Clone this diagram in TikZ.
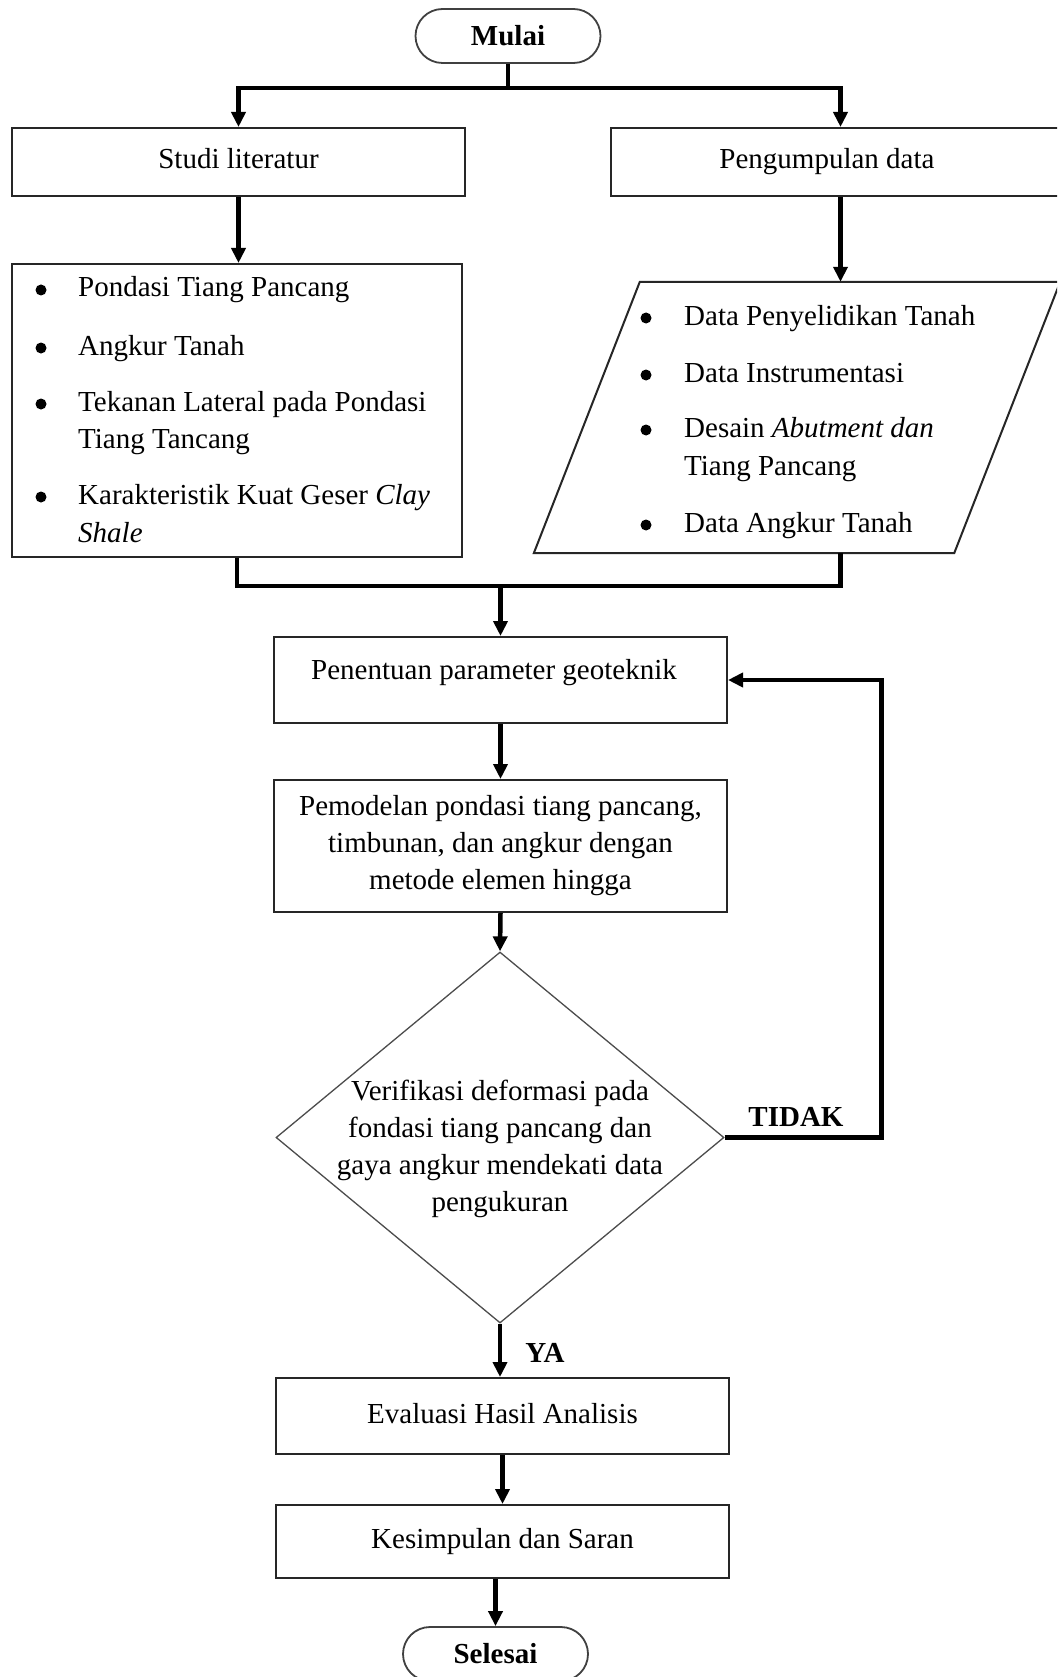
\documentclass[tikz,border=0pt]{standalone}
\usepackage{fontspec}
\setmainfont{Liberation Serif}
\usetikzlibrary{arrows.meta,shapes.geometric,shapes.misc}
\begin{document}
\begin{tikzpicture}[x=1pt,y=-1pt,
  conn/.style={line width=4.5pt},
  arr/.style={line width=4.5pt,-{Triangle[length=15pt,width=14pt]}},
  boxs/.style={draw=black!85,line width=2pt,rectangle,inner sep=0pt},
  term/.style={draw=black!75,line width=1.8pt,rounded rectangle,minimum width=185pt,minimum height=54pt,inner sep=0pt,font=\fontsize{29}{35}\selectfont\bfseries},
  txt/.style={inner sep=0pt,font=\fontsize{29}{37}\selectfont},
  one/.style={text height=20pt,text depth=6pt},
  bul/.style={circle,fill=black,inner sep=0pt,minimum size=11pt},
  lbl/.style={inner sep=0pt,font=\fontsize{29}{35}\selectfont\bfseries}]

\useasboundingbox (0,0) rectangle (1057,1677);
\fill[white] (0,0) rectangle (1057,1677);
\clip (0,0) rectangle (1057,1677);

% nodes
\node[term] (mulai) at (508,36) {Mulai};
\node[boxs,txt,one,minimum width=453pt,minimum height=68pt] (studi) at (238.5,162) {Studi literatur};
\node[boxs,minimum width=459pt,minimum height=68pt] (kumpul) at (840.5,162) {};
\node[txt,one] (kumpult) at (827,162) {Pengumpulan data};

\node[boxs,minimum width=450pt,minimum height=293pt] (lit) at (237,410.5) {};
\node[bul] (lb1) at (41,290) {};
\node[txt,one,anchor=west] (lt1) at (78,290) {Pondasi Tiang Pancang};
\node[bul] (lb2) at (41,348) {};
\node[txt,one,anchor=west] (lt2) at (78,348) {Angkur Tanah};
\node[bul] (lb3) at (41,404) {};
\node[txt,one,anchor=west] (lt3a) at (78,404) {Tekanan Lateral pada Pondasi};
\node[txt,one,anchor=west] (lt3b) at (78,441) {Tiang Tancang};
\node[bul] (lb4) at (41,497) {};
\node[txt,one,anchor=west] (lt4a) at (78,497) {Karakteristik Kuat Geser \textit{Clay}};
\node[txt,one,anchor=west] (lt4b) at (78,535) {\textit{Shale}};

\node[inner sep=0pt,minimum width=526pt,minimum height=271pt] (data) at (797,417.5) {};
\draw[draw=black!85,line width=2pt] (data.south west) -- ([xshift=106pt]data.north west) -- (data.north east) -- ([xshift=-106pt]data.south east) -- cycle;
\node[bul] (db1) at (646,318) {};
\node[txt,one,anchor=west] (dt1) at (684,318) {Data Penyelidikan Tanah};
\node[bul] (db2) at (646,375) {};
\node[txt,one,anchor=west] (dt2) at (684,375) {Data Instrumentasi};
\node[bul] (db3) at (646,430) {};
\node[txt,one,anchor=west] (dt3a) at (684,430) {Desain \textit{Abutment dan}};
\node[txt,one,anchor=west] (dt3b) at (684,468) {Tiang Pancang};
\node[bul] (db4) at (646,525) {};
\node[txt,one,anchor=west] (dt4) at (684,525) {Data Angkur Tanah};

\node[boxs,minimum width=453pt,minimum height=86pt] (pen) at (500.5,680) {};
\node[txt,one] (pent) at (494,672) {Penentuan parameter geoteknik};

\node[boxs,txt,align=center,minimum width=453pt,minimum height=132pt] (model) at (500.5,846) {Pemodelan pondasi tiang pancang,\\timbunan, dan angkur dengan\\metode elemen hingga};

\node[draw=black!70,line width=1.3pt,diamond,minimum width=448pt,minimum height=371pt,inner sep=0pt] (dec) at (500,1137.5) {};
\node[txt,align=center] (dect) at (500,1149) {Verifikasi deformasi pada\\fondasi tiang pancang dan\\gaya angkur mendekati data\\pengukuran};

\node[lbl] (tidak) at (796,1117) {TIDAK};
\node[lbl] (ya) at (545,1353) {YA};

\node[boxs,txt,one,minimum width=453pt,minimum height=76pt] (eval) at (502.5,1416) {Evaluasi Hasil Analisis};
\node[boxs,txt,one,minimum width=453pt,minimum height=73pt] (kesim) at (502.5,1541.5) {Kesimpulan dan Saran};
\node[term] (selesai) at (495.5,1654) {Selesai};

% connectors
\draw[conn] (mulai.south) -- ++(0,24) coordinate (split);
\draw[arr] (split) -| (studi.north);
\draw[arr] (split) -| (kumpul.north);
\draw[arr] (studi.south) -- (studi.south |- lit.north);
\draw[arr] (kumpul.south) -- (kumpul.south |- data.north);
\draw[conn] (lit.south) -- ++(0,28) coordinate (mL) -| (data.south -| kumpul.south);
\draw[arr] (pen.north |- mL) -- (pen.north);
\draw[arr] (pen.south) -- (model.north);
\draw[arr] (model.south) -- (dec.north);
\draw[arr] (dec.east) -- ++(157,0) |- (pen.east);
\draw[arr] (dec.south) -- (dec.south |- eval.north);
\draw[arr] (eval.south) -- (kesim.north);
\draw[arr] (kesim.south -| selesai.north) -- (selesai.north);
\end{tikzpicture}
\end{document}
